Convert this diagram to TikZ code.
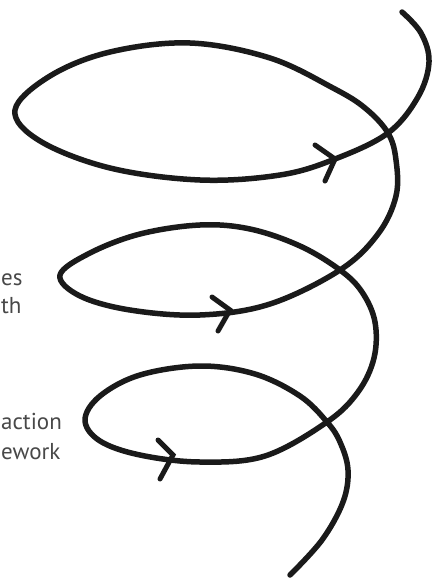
\documentclass[tikz,border=0pt]{standalone}
\usepackage{fontspec}
\setmainfont{PT Sans}
\definecolor{ink}{RGB}{26,26,26}
\definecolor{txtgray}{RGB}{72,72,72}
\begin{document}
\begin{tikzpicture}[x=1pt,y=-1pt,
  spiral/.style={line width=5.5pt, draw=ink, line cap=round, line join=round},
  chevron/.style={line width=5pt, draw=ink, line cap=round, line join=miter},
  lbl/.style={font=\fontsize{23}{28}\selectfont, text=txtgray, inner sep=0pt, anchor=base west}]
\useasboundingbox (0,0) rectangle (433,580);
% spiral
\draw[spiral] plot[smooth, tension=0.6] coordinates {
 (290,575) (322,540) (343,502) (348,470) (340,442) (327,422)
 (300,396) (255,374) (200,366) (140,375) (100,396) (85,420)
 (100,441) (140,455) (200,462) (265,456) (327,422)
 (358,392) (374,358) (375,322) (362,292) (340,270)
 (300,246) (250,229) (200,225) (140,234) (90,253) (60,275)
 (80,296) (130,310) (200,315) (270,304) (340,270)
 (378,234) (396,196) (396,160) (388,133)
 (365,108) (333,88) (270,58) (190,43) (110,52) (50,76) (15,110)
 (40,141) (110,168) (200,180) (280,175) (335,159) (388,133)
 (418,97) (429,62) (421,33) (402,12)
};
% arrowheads
\coordinate (t1) at (335,159); \coordinate (t1a) at (315,145); \coordinate (t1b) at (325,181);
\coordinate (t2) at (230,310); \coordinate (t2a) at (212,297); \coordinate (t2b) at (218,331);
\coordinate (t3) at (173,455); \coordinate (t3a) at (158,440); \coordinate (t3b) at (160,479);
\draw[chevron] (t1a) -- (t1) -- (t1b);
\draw[chevron] (t2a) -- (t2) -- (t2b);
\draw[chevron] (t3a) -- (t3) -- (t3b);
% labels
\node[lbl] (l1) at (1,285) {es};
\node[lbl] (l2) at (1,313) {th};
\node[lbl] (l3) at (1,429) {action};
\node[lbl] (l4) at (1,459) {ework};
\end{tikzpicture}
\end{document}
